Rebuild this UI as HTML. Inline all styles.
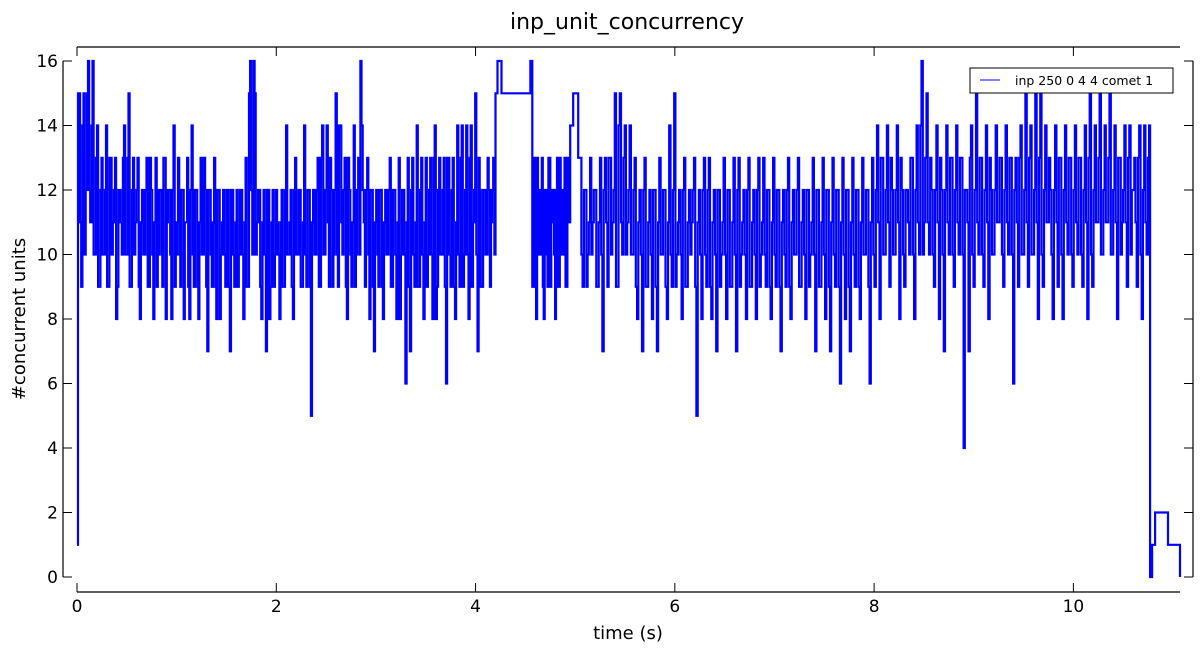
<!DOCTYPE html>
<html><head><meta charset="utf-8">
<style>
html,body{margin:0;padding:0;background:#fff;}
svg{display:block;font-family:"DejaVu Sans","Liberation Sans",sans-serif;}
</style></head>
<body>
<svg id="chart" width="1203" height="652" viewBox="0 0 1203 652">
<text x="627" y="29" font-size="22" text-anchor="middle">inp_unit_concurrency</text>
<g id="axes"></g>
<g id="plot"></g>
<text x="628" y="639" font-size="18" text-anchor="middle">time (s)</text>
<text transform="translate(25,319) rotate(-90)" font-size="18" text-anchor="middle">#concurrent units</text>
<g>
<rect x="970" y="68" width="203" height="25" fill="#fff" stroke="#000" stroke-width="1"/>
<line x1="980" y1="80" x2="1000" y2="80" stroke="#00f" stroke-width="1"/>
<text x="1015" y="85" font-size="12.5">inp 250 0 4 4 comet 1</text>
</g>
</svg>
<script>
const xTicks=[0,2,4,6,8,10];
const yTicks=[0,2,4,6,8,10,12,14,16];
const segA=[15,9,15,12,16,11,16,10,14,9,13,10,14,9,13,11,13,9,12,10,14,10,15,9,13,11,13,8,12,10,13,9,12,8,13,10,12,9,13,11,12,8,14,10,13,9,12,11,13,8,14,9,12,8,13,10,12,7,12,9,13,8,12,10,12,9,12,7,12,9,12,10,12,8,13,9,16,10,15,11,12,8,12,7,12,9,12,10,11,8,12,9,14,10,12,8,13,10,12,9,14,9,12,5,12,10,13,9,14,10,14,9,12,10,15,9,14,10,13,8,12,9,14,10,13,16,12,9,13,8,12,7,12,9,12,8,12,10,13,9,12,8,13,10,12,6,13,7,13,9,14,9,13,8,13,10,13,8,14,9,13,10,13,6,13,9,13,8,14,9,14,10,14,8,14,11,15,7,12,9,12,10,12,11,13];
const segA2=[11,14,10,15,12,14,10,13,9,12,10,12,9,13,10,12,8,12,11,13,10,13,9,12,10,12,9,11,10,12,9,13,10,11,9,12,10,13,8,12,10,12,9,11,10,12,8,11,9,12,10,12,9,11,10,13,9,12,10,11,9,12,8,11,10,12,9,12,10,11,9,12,10,11,9,15,12,16,10,12,9,11,10,12,8,11,9,12,10,11,9,12,10,11,9,12,10,12,9,11,10,12,9,11,10,12,9,13,10,12,11,13,9,12,10,14,11,12,9,13,10,11,9,12,10,14,11,12,10,12,9,11,10,12,9,11,10,12,9,12,10,11,8,12,10,11,9,12,10,11,9,12,10,11,9,12,10,13,8,12,10,12,9,13,10,12,9,11,10,13,9,12,10,13,9,12,10,13,9,12,10,13,9,12,10,13,9,14,10,13,10,12,9,12,10,13,11,12,9,12,10,11,9,12,10];
const segC=[9,13,8,12,10,13,8,12,9,13,11,12,8,13,9,12,10,13,9,12];
const segC2=[12,9,13,10,12,9,12,10,13,9,12,10,12,9,13,10,12,9,13,11];
const segE=[13,9,12,10,13,11,12,9,13,7,13,9,13,11,15,9,15,10,14,11,14,10,13,8,12,7,13,9,12,8,12,7,13,10,12,8,14,9,15,10,12,8,13,9,12,11,13,5,12,8,13,9,13,8,12,7,12,10,13,8,12,9,13,7,13,10,12,8,13,9,12,8,13,10,13,9,12,8,13,9,12,7,12,9,13,8,12,10,13,9,12,8,12,10,13,7,12,9,13,8,12,7,13,9,12,6,13,8,12,7,13,9,12,8,13,10,12,6,13,9,14,8,13,10,14,9,12,10,14,8,12,9,12,10,13,8,14,10,16,11,15,10,12,9,14,8,12,7,14,10,13,9,14,10,13,4,12,7,14,9,15,10,13,9,14,8,12,10,14,11,13,9,14,10,13,6,13,9,14,10,15,9,14,10,15,8,15,9,14,11,12,8,14,9,13,8,14,10,13,9,14,10,13,9,14,8,15,9,14,11,15,10,14,11,15,10,14,8,13,11,14,9,14,12,13,9,14,8,14,10];
const segE2=[10,12,9,11,10,12,9,11,10,12,11,13,10,12,9,14,11,13,10,12,10,12,9,11,10,12,9,11,10,12,9,11,10,12,9,11,10,12,9,11,10,12,9,11,10,12,9,11,10,12,10,12,9,11,10,12,9,11,10,12,9,11,10,12,9,11,10,12,9,11,10,12,9,11,10,12,9,11,10,12,9,11,10,12,9,11,10,12,9,11,10,12,9,11,10,12,9,11,10,12,9,11,10,12,9,11,10,12,9,11,10,12,9,11,10,12,9,11,10,12,11,13,10,12,11,13,10,12,11,13,10,12,11,13,10,12,11,14,10,13,11,13,10,12,11,13,10,12,11,13,10,12,11,13,10,12,11,13,10,12,11,13,10,12,11,13,10,12,11,13,10,12,11,13,10,12,11,13,10,12,11,13,10,12,11,13,10,12,11,13,10,12,11,13,10,12,11,13,10,12,11,13,10,12,11,13,10,12,11,13,10,12,11,13,10,12,11,13,10,12,11,13,10,12,11,13,10,12,11,13];
const segBounds=[[0.02,4.2],[4.57,4.95],[5.05,10.76]];
const fixedTimes=[0,0.01,4.2,4.22,4.26,4.55,4.57,4.95,4.98,5.03,10.76,10.77,10.79,10.82,10.95,11.07];
const fixedVals=[1,15,15,16,15,16,13,14,15,13,14,0,1,2,1,0];

const NS="http://www.w3.org/2000/svg";
const X0=77,X1=1180,XMAX=11.07,Y0=577,Y16=61;
const xs=t=>X0+(X1-X0)*t/XMAX;
const ys=v=>Y0+(Y16-Y0)*v/16;
function mk(tag,attrs,parent){const e=document.createElementNS(NS,tag);for(const k in attrs)e.setAttribute(k,attrs[k]);parent.appendChild(e);return e;}

const axes=document.getElementById('axes');
let s;
s=mk('line',{x1:63,y1:Y16,x2:63,y2:Y0,stroke:'#000','stroke-width':1.2},axes);


s=mk('line',{x1:1193,y1:Y16,x2:1193,y2:Y0,stroke:'#000','stroke-width':1.2},axes);


s=mk('line',{x1:X0,y1:592,x2:X1,y2:592,stroke:'#000','stroke-width':1.2},axes);


s=mk('line',{x1:X0,y1:47,x2:X1,y2:47,stroke:'#000','stroke-width':1.2},axes);


xTicks.forEach(t=>{
  const x=xs(t);
  let l=mk('line',{x1:x,y1:592,x2:x,y2:583,stroke:'#000','stroke-width':1},axes);
  
  
  l=mk('line',{x1:x,y1:47,x2:x,y2:56,stroke:'#000','stroke-width':1},axes);
  
  
  const tx=mk('text',{x:x,y:612,'font-size':17,'text-anchor':'middle'},axes);
  tx.textContent=t;
  
  
});
yTicks.forEach(v=>{
  const y=ys(v);
  let l=mk('line',{x1:63,y1:y,x2:72,y2:y,stroke:'#000','stroke-width':1},axes);
  
  
  l=mk('line',{x1:1193,y1:y,x2:1184,y2:y,stroke:'#000','stroke-width':1},axes);
  
  
  const tx=mk('text',{x:58,y:y+6,'font-size':17,'text-anchor':'end'},axes);
  tx.textContent=v;
  
  
});

let pts=[];
for(let i=0;i<fixedTimes.length;i++)pts.push([fixedTimes[i],fixedVals[i]]);
[[segA,segA2],[segC,segC2],[segE,segE2]].forEach((pair,k)=>{
  const [a,b]=segBounds[k];
  const arr=pair[0],arr2=pair[1];
  const dt=(b-a)/arr.length;
  arr.forEach((v,i)=>{
    pts.push([a+i*dt,v]);
    if(i<arr2.length)pts.push([a+(i+0.5)*dt,arr2[i]]);
  });
});
pts.sort((p,q)=>p[0]-q[0]);
let d='M'+xs(pts[0][0]).toFixed(1)+' '+ys(pts[0][1]).toFixed(1);
for(let i=1;i<pts.length;i++){
  d+=' H'+xs(pts[i][0]).toFixed(1)+' V'+ys(pts[i][1]).toFixed(1);
}
const p=mk('path',{d:d,fill:'none',stroke:'#00f','stroke-width':2.2},document.getElementById('plot'));


</script>
</body></html>
